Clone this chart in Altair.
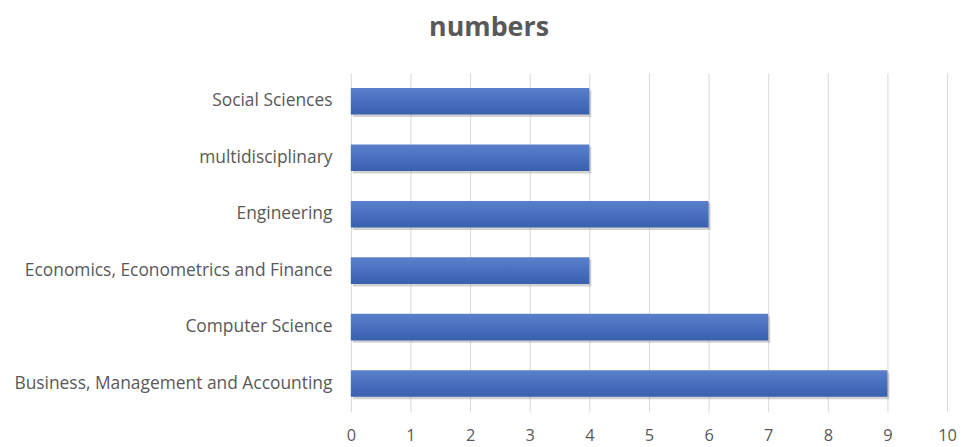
import altair as alt
import pandas as pd

categories = [
    "Social Sciences",
    "multidisciplinary ",
    "Engineering",
    "Economics, Econometrics and Finance",
    "Computer Science",
    "Business, Management and Accounting",
]
values = [4, 4, 6, 4, 7, 9]
x_ticks = [0, 1, 2, 3, 4, 5, 6, 7, 8, 9, 10]

df = pd.DataFrame({"category": categories, "value": values})

FONT = "Open Sans"
GRAY = "#595959"

y_enc = alt.Y(
    "category:N",
    sort=categories,
    scale=alt.Scale(paddingInner=0.53, paddingOuter=0.265),
    axis=alt.Axis(
        title=None,
        ticks=False,
        domain=False,
        labelPadding=19,
        labelFont=FONT,
        labelFontSize=17.5,
        labelColor=GRAY,
        labelLimit=400,
    ),
)
x_enc = alt.X(
    "value:Q",
    scale=alt.Scale(domain=[0, 10], nice=False),
    axis=alt.Axis(
        title=None,
        values=x_ticks,
        ticks=False,
        domain=False,
        grid=True,
        gridColor="#D9D9D9",
        gridWidth=1,
        labelPadding=16,
        labelFont=FONT,
        labelFontSize=16.5,
        labelColor=GRAY,
        labelFlush=False,
    ),
)

shadow = alt.Chart(df).mark_bar(
    color="#7f7f7f", opacity=0.35, xOffset=2, yOffset=2.5
).encode(x=x_enc, y=y_enc)

bars = alt.Chart(df).mark_bar(
    color=alt.Gradient(
        gradient="linear",
        x1=0, y1=0, x2=0, y2=1,
        stops=[
            alt.GradientStop(offset=0, color="#5A80CB"),
            alt.GradientStop(offset=0.5, color="#4870BF"),
            alt.GradientStop(offset=1, color="#3860AD"),
        ],
    )
).encode(x=x_enc, y=y_enc)

chart = (
    alt.layer(shadow, bars)
    .properties(
        width=600,
        height=341,
        autosize=alt.AutoSizeParams(type="none"),
        padding={"left": 345, "top": 64, "right": 10, "bottom": 32},
        title=alt.TitleParams(
            "numbers",
            font=FONT,
            fontSize=27,
            fontWeight="bold",
            color=GRAY,
            anchor="middle",
            frame="bounds",
            offset=31,
            dx=4,
        ),
    )
    .configure_view(stroke=None)
)

chart.save("out.html", embed_options={"renderer": "svg", "actions": False})
